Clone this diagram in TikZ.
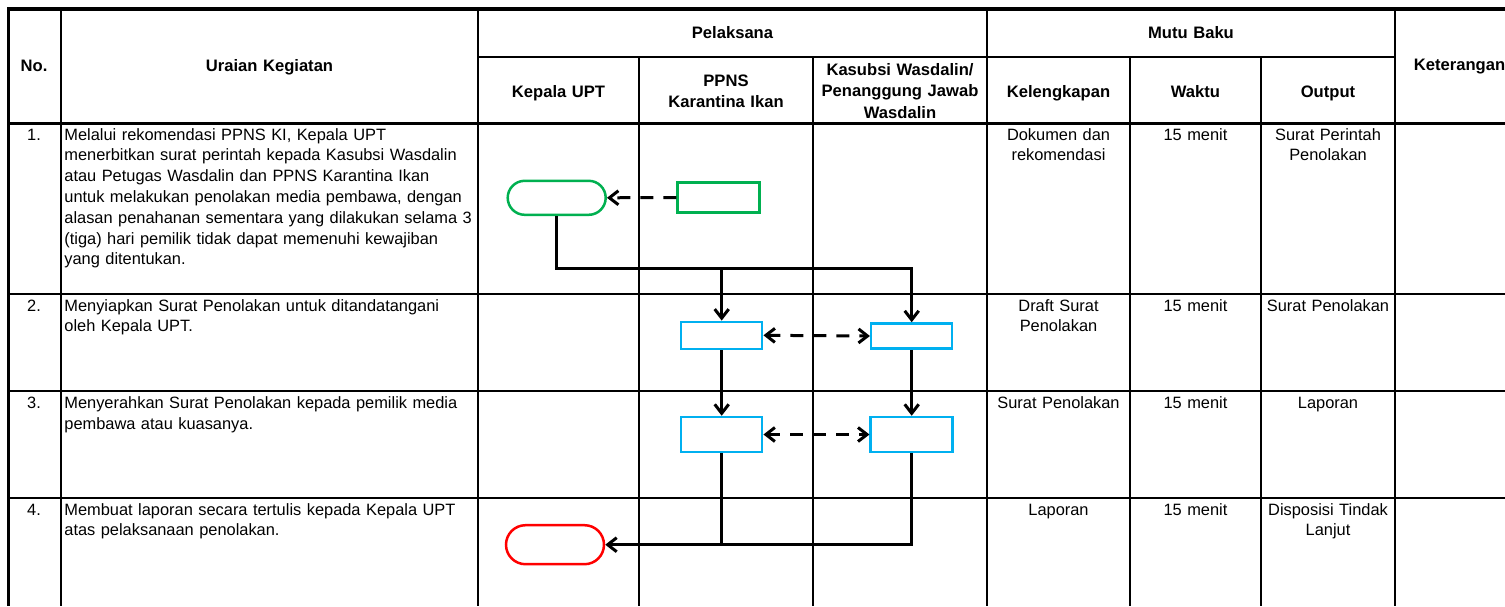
\documentclass[tikz,border=0pt]{standalone}
\usepackage{fontspec}
\setmainfont{Liberation Sans}
\usetikzlibrary{arrows.meta}
\definecolor{xgreen}{HTML}{00B050}
\definecolor{xblue}{HTML}{00B0F0}
\definecolor{xred}{HTML}{FF0000}
\begin{document}
\begin{tikzpicture}[x=0.5pt,y=-0.5pt,
  fnt/.style={font=\fontsize{8.2}{10.4}\selectfont},
  grid/.style={line width=1pt},
  bord/.style={line width=1.75pt},
  hbot/.style={line width=1.5pt},
  lcell/.style={fnt, anchor=base west, inner sep=0pt, text width=240pt, align=left},
  ccell/.style={fnt, anchor=base, inner sep=0pt, text width=72pt, align=center},
  hcell/.style={font={\fontsize{8.3}{10.75}\selectfont\bfseries}, anchor=base, inner sep=0pt, text width=92pt, align=center},
  flow/.style={line width=1.5pt, black},
  tip/.style={-{Straight Barb[length=4.5pt,width=7pt]}},
  dtip/.style={{Straight Barb[length=4.5pt,width=7pt]}-{Straight Barb[length=4.5pt,width=7pt]}},
  dashflow/.style={flow, dash pattern=on 6.5pt off 5pt},
  term/.style={draw, line width=1.25pt, fill=white, inner sep=0pt},
  procbox/.style={draw, line width=1.25pt, fill=white, inner sep=0pt}
]
\useasboundingbox (0,0) rectangle (1505,606);

% ---------- table grid ----------
\draw[grid] (478,57) -- (1394.5,57);
\foreach \yy in {294,390.7,498} \draw[grid] (7,\yy) -- (1505,\yy);
\foreach \xx in {61,478,987,1394.5} \draw[grid] (\xx,9) -- (\xx,606);
\foreach \xx in {639,812.7,1130,1261} \draw[grid] (\xx,57) -- (\xx,606);
\draw[hbot] (7,123.5) -- (1505,123.5);
\draw[bord] (7,9) -- (1505,9);
\draw[bord] (8.5,7.3) -- (8.5,606);

% ---------- headers ----------
\node[hcell] (hNo) at (34,71) {No.};
\node[hcell] (hUr) at (269.5,71) {Uraian Kegiatan};
\node[hcell] (hPel) at (732.5,38) {Pelaksana};
\node[hcell] (hMutu) at (1191,38) {Mutu Baku};
\node[hcell] (hKep) at (558.5,97.5) {Kepala UPT};
\node[hcell] (hPPNS) at (726,86) {PPNS\\Karantina Ikan};
\node[hcell] (hKas) at (900,75) {Kasubsi Wasdalin/\\Penanggung Jawab\\Wasdalin};
\node[hcell] (hKel) at (1058.5,97) {Kelengkapan};
\node[hcell] (hWak) at (1195.5,97) {Waktu};
\node[hcell] (hOut) at (1328,97) {Output};
\node[font={\fontsize{8.3}{10.4}\selectfont\bfseries}, anchor=base west, inner sep=0pt] (hKet) at (1413.5,70) {Keterangan};

% ---------- row numbers ----------
\node[ccell] (n1) at (34,140) {1.};
\node[ccell] (n2) at (34,311) {2.};
\node[ccell] (n3) at (34,408.5) {3.};
\node[ccell] (n4) at (34,515) {4.};

% ---------- descriptions ----------
\node[lcell] (d1) at (64,140) {Melalui rekomendasi PPNS KI, Kepala UPT\\menerbitkan surat perintah kepada Kasubsi Wasdalin\\atau Petugas Wasdalin dan PPNS Karantina Ikan\\untuk melakukan penolakan media pembawa, dengan\\alasan penahanan sementara yang dilakukan selama 3\\(tiga) hari pemilik tidak dapat memenuhi kewajiban\\yang ditentukan.};
\node[lcell] (d2) at (64,311) {Menyiapkan Surat Penolakan untuk ditandatangani\\oleh Kepala UPT.};
\node[lcell] (d3) at (64,408.5) {Menyerahkan Surat Penolakan kepada pemilik media\\pembawa atau kuasanya.};
\node[lcell] (d4) at (64,515) {Membuat laporan secara tertulis kepada Kepala UPT\\atas pelaksanaan penolakan.};

% ---------- mutu baku ----------
\node[ccell] (k1) at (1058.5,140) {Dokumen dan\\rekomendasi};
\node[ccell] (w1) at (1195.5,140) {15 menit};
\node[ccell] (o1) at (1328,140) {Surat Perintah\\Penolakan};
\node[ccell] (k2) at (1058.5,311) {Draft Surat\\Penolakan};
\node[ccell] (w2) at (1195.5,311) {15 menit};
\node[ccell] (o2) at (1328,311) {Surat Penolakan};
\node[ccell] (k3) at (1058.5,408.5) {Surat Penolakan};
\node[ccell] (w3) at (1195.5,408.5) {15 menit};
\node[ccell] (o3) at (1328,408.5) {Laporan};
\node[ccell] (k4) at (1058.5,515) {Laporan};
\node[ccell] (w4) at (1195.5,515) {15 menit};
\node[ccell] (o4) at (1328,515) {Disposisi Tindak\\Lanjut};

% ---------- flow shapes ----------
\node[term, draw=xgreen, minimum width=49pt, minimum height=17pt, rounded corners=8.5pt] (g1) at (556.7,197.8) {};
\node[procbox, draw=xgreen, minimum width=41pt, minimum height=15pt] (g2) at (718.5,197.5) {};
\node[procbox, draw=xblue, minimum width=40.5pt, minimum height=13.5pt] (b2a) at (721.7,335.3) {};
\node[procbox, draw=xblue, minimum width=40.5pt, minimum height=12.5pt] (b2b) at (911.7,336) {};
\node[procbox, draw=xblue, minimum width=40.5pt, minimum height=17.5pt] (b3a) at (721.7,434.5) {};
\node[procbox, draw=xblue, minimum width=41pt, minimum height=17.5pt] (b3b) at (911.7,434.5) {};
\node[term, draw=xred, minimum width=49pt, minimum height=19.5pt, rounded corners=9.75pt] (r4) at (555,544.7) {};

\coordinate (j1) at (721.7,268);
\coordinate (j2) at (911.7,268);

% ---------- connectors ----------
\draw[dashflow, tip] (g2.west) -- (g1.east);
\draw[flow, tip] (g1.south) |- (j2) -- (b2b.north);
\draw[flow, tip] (j1) -- (b2a.north);
\draw[flow, tip] (b2a.south) -- (b3a.north);
\draw[flow, tip] (b2b.south) -- (b3b.north);
\draw[dashflow, dtip] (b2a.east) -- (b2b.west);
\draw[dashflow, dtip] (b3a.east) -- (b3b.west);
\draw[flow] (b3a.south) -- (b3a.south |- r4.east);
\draw[flow, tip] (b3b.south) |- (r4.east);
\end{tikzpicture}
\end{document}
